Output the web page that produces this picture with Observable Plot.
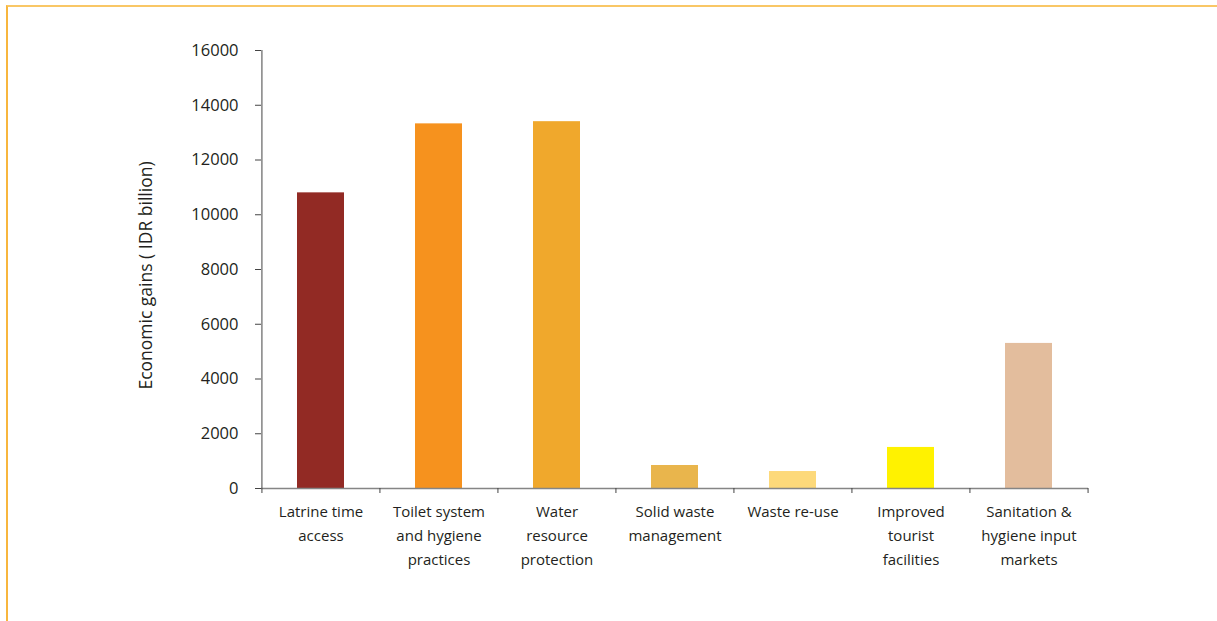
<!DOCTYPE html>
<html>
<head>
<meta charset="utf-8">
<script src="https://cdn.jsdelivr.net/npm/d3@7"></script>
<script src="https://cdn.jsdelivr.net/npm/@observablehq/plot@0.6"></script>
<style>
  html, body { margin: 0; padding: 0; background: #fff; }
  #frame {
    position: absolute; left: 0; top: 0; width: 1217px; height: 621px;
    overflow: hidden;
  }
  #border {
    position: absolute; left: 6px; top: 5px; width: 1230px; height: 640px;
    border-top: 2px solid #f9c766; border-left: 2px solid #f8b63d;
    pointer-events: none;
  }
  svg { font-family: "Open Sans", sans-serif; }
</style>
</head>
<body>
<div id="frame"><div id="chart"></div><div id="border"></div></div>
<script>
const categories = [
  "Latrine time\naccess",
  "Toilet system\nand hygiene\npractices",
  "Water\nresource\nprotection",
  "Solid waste\nmanagement",
  "Waste re-use",
  "Improved\ntourist\nfacilities",
  "Sanitation &\nhygiene input\nmarkets"
];
const values = [10800, 13320, 13400, 840, 620, 1500, 5300];
const colors = ["#922a24", "#f6921e", "#f0a82c", "#e9b54c", "#fdd97a", "#fff200", "#e3bd9d"];
const yTicks = [0, 2000, 4000, 6000, 8000, 10000, 12000, 14000, 16000];
const yLabel = "Economic gains ( IDR billion)";

const data = categories.map((c, i) => ({category: c, value: values[i], color: colors[i]}));

const W = 1217, H = 621;
const mL = 261, mR = 129, mT = 50, mB = 133;
const step = (W - mL - mR) / categories.length;

const chart = Plot.plot({
  width: W,
  height: H,
  marginLeft: mL,
  marginRight: mR,
  marginTop: mT,
  marginBottom: mB,
  style: {fontFamily: "Open Sans, sans-serif", color: "#231f20", background: "transparent"},
  x: {domain: categories, paddingInner: 0.6, paddingOuter: 0.3, label: null},
  y: {domain: [0, 16000], label: null},
  marks: [
    Plot.barY(data, {x: "category", y: "value", fill: "color"}),
    // x axis line
    Plot.ruleY([0], {stroke: "#858585", strokeWidth: 1.6}),
    // y axis line
    Plot.ruleX([categories[0]], {dx: -step / 2, y1: 0, y2: 16000, stroke: "#444", strokeWidth: 1}),
    // y ticks and labels
    Plot.axisY({
      ticks: yTicks, tickSize: 6, tickPadding: 17, tickFormat: d => String(d),
      fontSize: 16.5, stroke: "#444", label: null
    }),
    // x category labels
    Plot.axisX({
      tickSize: 0, tickPadding: 11, fontSize: 15, lineHeight: 1.6, label: null
    }),
    // boundary ticks on x axis
    Plot.axisX({ticks: categories, tickSize: 5, dx: -step / 2, tickFormat: () => "", stroke: "#444", label: null}),
    Plot.axisX({ticks: [categories[categories.length - 1]], tickSize: 5, dx: step / 2, tickFormat: () => "", stroke: "#444", label: null}),
    // y axis title
    Plot.text([yLabel], {frameAnchor: "left", textAnchor: "middle", dx: -115, dy: 6, rotate: -90, fontSize: 17.5, fill: "#231f20"})
  ]
});
document.getElementById("chart").appendChild(chart);
</script>
</body>
</html>
